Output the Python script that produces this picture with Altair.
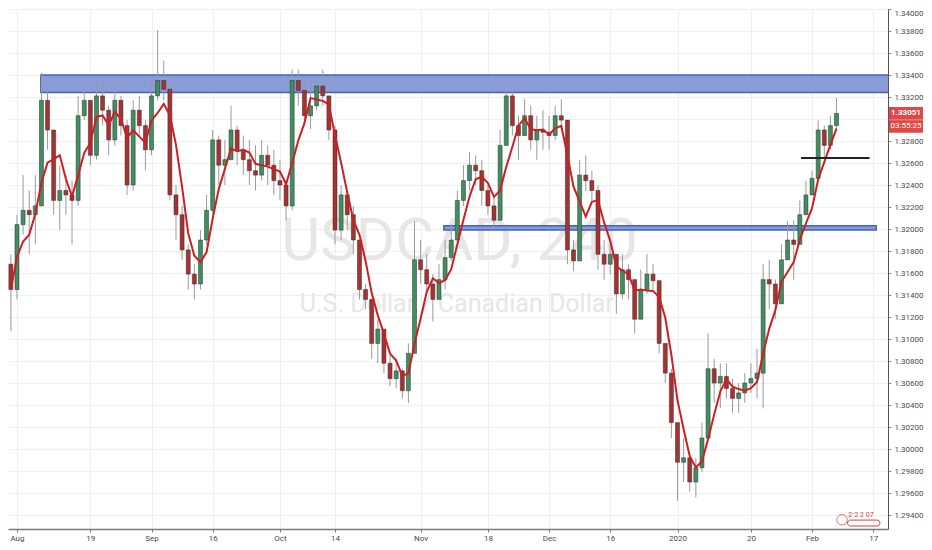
"""
USDCAD 4H-style candlestick chart with moving average and zones, Altair
"""
import json
import altair as alt
import pandas as pd

# ---------------------------------------------------------------------------
# Data (one candle per trading day)
# ---------------------------------------------------------------------------
first_open = 1.3168

closes = [
    1.3145, 1.3204, 1.3217, 1.3213, 1.3221, 1.3317, 1.3290, 1.3226, 1.3235, 1.3231,
    1.3226, 1.3303, 1.3317, 1.3267, 1.3321, 1.3308, 1.3281, 1.3317, 1.3294, 1.3240,
    1.3308, 1.3294, 1.3272, 1.3321, 1.3335, 1.3327, 1.3231, 1.3213, 1.3181, 1.3159,
    1.3150, 1.3190, 1.3217, 1.3281, 1.3258, 1.3263, 1.3290, 1.3272, 1.3263, 1.3253,
    1.3249, 1.3267, 1.3258, 1.3244, 1.3240, 1.3221, 1.3335, 1.3326, 1.3303, 1.3312,
    1.3330, 1.3321, 1.3290, 1.3199, 1.3231, 1.3213, 1.3190, 1.3145, 1.3136, 1.3096,
    1.3109, 1.3078, 1.3064, 1.3071, 1.3053, 1.3087, 1.3172, 1.3163, 1.3150, 1.3136,
    1.3154, 1.3174, 1.3190, 1.3226, 1.3244, 1.3258, 1.3253, 1.3235, 1.3221, 1.3208,
    1.3276, 1.3321, 1.3294, 1.3285, 1.3303, 1.3281, 1.3290, 1.3288, 1.3285, 1.3303,
    1.3299, 1.3181, 1.3171, 1.3249, 1.3244, 1.3235, 1.3177, 1.3168, 1.3177, 1.3141,
    1.3163, 1.3154, 1.3118, 1.3145, 1.3159, 1.3153, 1.3096, 1.3069, 1.3024, 1.2988,
    1.2992, 1.2970, 1.2983, 1.3010, 1.3073, 1.3060, 1.3066, 1.3055, 1.3046, 1.3051,
    1.3060, 1.3064, 1.3069, 1.3154, 1.3150, 1.3132, 1.3172, 1.3190, 1.3186, 1.3213,
    1.3231, 1.3246, 1.3290, 1.3276, 1.3294, 1.3305,
]
highs = [
    1.3177, 1.3213, 1.3249, 1.3235, 1.3249, 1.3342, 1.3330, 1.3276, 1.3258, 1.3249,
    1.3244, 1.3321, 1.3330, 1.3317, 1.3335, 1.3327, 1.3312, 1.3326, 1.3321, 1.3299,
    1.3317, 1.3321, 1.3299, 1.3335, 1.3381, 1.3353, 1.3330, 1.3240, 1.3221, 1.3186,
    1.3168, 1.3199, 1.3231, 1.3290, 1.3285, 1.3281, 1.3312, 1.3294, 1.3285, 1.3281,
    1.3276, 1.3281, 1.3276, 1.3272, 1.3263, 1.3244, 1.3345, 1.3345, 1.3335, 1.3326,
    1.3339, 1.3345, 1.3321, 1.3294, 1.3240, 1.3235, 1.3221, 1.3190, 1.3150, 1.3136,
    1.3118, 1.3105, 1.3087, 1.3082, 1.3073, 1.3096, 1.3207, 1.3190, 1.3177, 1.3159,
    1.3168, 1.3190, 1.3204, 1.3235, 1.3258, 1.3270, 1.3267, 1.3263, 1.3240, 1.3231,
    1.3290, 1.3327, 1.3326, 1.3303, 1.3318, 1.3312, 1.3303, 1.3308, 1.3303, 1.3312,
    1.3318, 1.3294, 1.3190, 1.3263, 1.3267, 1.3253, 1.3240, 1.3190, 1.3190, 1.3177,
    1.3177, 1.3168, 1.3154, 1.3163, 1.3177, 1.3168, 1.3154, 1.3096, 1.3073, 1.3019,
    1.3010, 1.2997, 1.2992, 1.3024, 1.3105, 1.3082, 1.3078, 1.3078, 1.3064, 1.3060,
    1.3069, 1.3078, 1.3091, 1.3168, 1.3172, 1.3154, 1.3186, 1.3207, 1.3208, 1.3226,
    1.3244, 1.3253, 1.3299, 1.3294, 1.3303, 1.3319,
]
lows = [
    1.3107, 1.3136, 1.3195, 1.3177, 1.3186, 1.3221, 1.3272, 1.3213, 1.3199, 1.3213,
    1.3186, 1.3221, 1.3299, 1.3258, 1.3263, 1.3294, 1.3267, 1.3276, 1.3285, 1.3231,
    1.3235, 1.3285, 1.3253, 1.3267, 1.3317, 1.3317, 1.3226, 1.3190, 1.3172, 1.3145,
    1.3136, 1.3145, 1.3186, 1.3213, 1.3240, 1.3240, 1.3263, 1.3258, 1.3249, 1.3240,
    1.3235, 1.3244, 1.3240, 1.3231, 1.3226, 1.3208, 1.3217, 1.3312, 1.3294, 1.3291,
    1.3308, 1.3312, 1.3281, 1.3186, 1.3190, 1.3199, 1.3177, 1.3136, 1.3127, 1.3082,
    1.3078, 1.3069, 1.3057, 1.3055, 1.3046, 1.3042, 1.3087, 1.3150, 1.3141, 1.3116,
    1.3136, 1.3145, 1.3171, 1.3186, 1.3221, 1.3235, 1.3240, 1.3221, 1.3213, 1.3201,
    1.3207, 1.3276, 1.3285, 1.3263, 1.3290, 1.3272, 1.3263, 1.3272, 1.3272, 1.3281,
    1.3290, 1.3168, 1.3162, 1.3172, 1.3234, 1.3226, 1.3163, 1.3154, 1.3159, 1.3123,
    1.3136, 1.3136, 1.3105, 1.3127, 1.3141, 1.3145, 1.3087, 1.3060, 1.3010, 1.2953,
    1.2970, 1.2961, 1.2956, 1.2979, 1.3010, 1.3042, 1.3037, 1.3046, 1.3033, 1.3033,
    1.3042, 1.3051, 1.3046, 1.3037, 1.3127, 1.3118, 1.3136, 1.3177, 1.3154, 1.3195,
    1.3217, 1.3231, 1.3244, 1.3265, 1.3272, 1.3290,
]
# trading-day number, Aug 1 2019 = 0 (Jul 31 = -1)
day_index = list(range(-1, -1 + len(closes)))

tick_days = [0, 12, 22, 32, 43, 52, 66, 77, 87, 97, 108, 120, 130, 140]
tick_labels = ["Aug", "19", "Sep", "16", "Oct", "14", "Nov", "18", "Dec", "16",
               "2020", "20", "Feb", "17"]
price_ticks = [round(1.294 + 0.002 * k, 3) for k in range(24)]
hidden_price_label = 1.330   # sits under the last-price tag

# drawn zones and level
zone_start = [3.9, 69.8]
zone_end = [143.0, 140.5]
zone_top = [1.3340, 1.3203]
zone_bottom = [1.3324, 1.3199]
level_start = [128.2]
level_end = [139.4]
level_price = [1.32645]

last_price = 1.33051
countdown = "03:55:25"
watermark_title = "USDCAD, 240"
watermark_sub = "U.S. Dollar / Canadian Dollar"

# red stamp, bottom right
stamp_text = "2ˊ2 2 07"
stamp_ring_day, stamp_ring_price = [134.9], [1.29357]
stamp_text_day, stamp_text_price = [135.9], [1.29399]
stamp_box_days, stamp_box_prices = [135.8, 141.1], [1.29354, 1.29300]

# ---------------------------------------------------------------------------
df = pd.DataFrame({"idx": day_index, "close": closes, "high": highs, "low": lows})
df["open"] = [first_open] + closes[:-1]
df["high"] = df[["high", "open", "close"]].max(axis=1)
df["low"] = df[["low", "open", "close"]].min(axis=1)

TOTAL_W, TOTAL_H = 916, 534
FONT = "Roboto"
STAMP = "#e03c3c"

label_expr = "{}[indexof({}, datum.value)]".format(json.dumps(tick_labels), json.dumps(tick_days))
y_label_expr = "abs(datum.value - {}) < 0.0001 ? '' : format(datum.value, '.5f')".format(hidden_price_label)

x_axis = alt.Axis(values=tick_days, labelExpr=label_expr, grid=True, gridColor="#efefef",
                  domainColor="#7a7a7a", domainWidth=1.5, tickColor="#7a7a7a", tickSize=3,
                  labelFontSize=8, labelColor="#4a4a4a", labelFont=FONT, labelPadding=2,
                  title=None, labelFlush=False)
y_axis = alt.Axis(orient="right", values=price_ticks, labelExpr=y_label_expr, grid=True,
                  gridColor="#efefef", domainColor="#555555", tickColor="#8c8c8c",
                  tickSize=3, labelFontSize=8, labelColor="#4a4a4a", labelFont=FONT,
                  labelPadding=3, labelFlush=True, title=None)
x_scale = alt.Scale(domain=[-0.65, 141.6], nice=False, zero=False)
y_scale = alt.Scale(domain=[1.29273, 1.3400], nice=False, zero=False)


def X(field):
    return alt.X(field, type="quantitative", scale=x_scale, axis=x_axis)


def Y(field):
    return alt.Y(field, type="quantitative", scale=y_scale, axis=y_axis)


def right_of_plot(offset):
    return alt.value({"expr": f"width + {offset}"})


base = alt.Chart(df)

watermark = alt.Chart(pd.DataFrame({"t": [watermark_title]})).mark_text(
    font=FONT, fontSize=60, color="#e6e6e6", align="center", baseline="alphabetic"
).encode(text="t:N", x=alt.value({"expr": "width * 0.513"}), y=alt.value({"expr": "height * 0.483"}))

watermark2 = alt.Chart(pd.DataFrame({"t": [watermark_sub]})).mark_text(
    font=FONT, fontSize=25, color="#e6e6e6", align="center", baseline="alphabetic"
).encode(text="t:N", x=alt.value({"expr": "width * 0.51"}), y=alt.value({"expr": "height * 0.582"}))

zones = alt.Chart(pd.DataFrame({"x0": zone_start, "x1": zone_end,
                                "top": zone_top, "bot": zone_bottom})).mark_rect(
    fill="#7d91d0", fillOpacity=0.9, stroke="#4262c2", strokeWidth=1.5, clip=True
).encode(x=X("x0"), x2="x1", y=Y("top"), y2="bot")

wicks = base.mark_rule(color="#9a9a9a", strokeWidth=1, clip=True).encode(
    x=X("idx"), y=Y("low"), y2="high")

bodies = base.mark_bar(size=4, stroke="#2b2b2b", strokeWidth=0.5, clip=True).encode(
    x=X("idx"), y=Y("open"), y2="close",
    color=alt.condition("datum.close >= datum.open", alt.value("#3f8f60"), alt.value("#a83232")),
)

ma = base.transform_window(
    ma="mean(close)", frame=[-3, 0], sort=[alt.SortField("idx")]
).mark_line(color="#cc1f24", strokeWidth=2, clip=True).encode(x=X("idx"), y=Y("ma"))

level = alt.Chart(pd.DataFrame({"x0": level_start, "x1": level_end, "p": level_price})).mark_rule(
    color="#222222", strokeWidth=2, clip=True
).encode(x=X("x0"), x2="x1", y=Y("p"))

stamp_ring = alt.Chart(pd.DataFrame({"d": stamp_ring_day, "p": stamp_ring_price})).mark_point(
    shape="circle", size=110, color=STAMP, strokeWidth=1, filled=False
).encode(x=X("d"), y=Y("p"))
stamp_label = alt.Chart(pd.DataFrame({"d": stamp_text_day, "p": stamp_text_price,
                                      "t": [stamp_text]})).mark_text(
    font=FONT, fontSize=7, color=STAMP, align="left", baseline="middle"
).encode(text="t:N", x=X("d"), y=Y("p"))
stamp_box = alt.Chart(pd.DataFrame({"d0": [stamp_box_days[0]], "d1": [stamp_box_days[1]],
                                    "p0": [stamp_box_prices[0]], "p1": [stamp_box_prices[1]]})).mark_rect(
    filled=False, stroke=STAMP, strokeWidth=1, cornerRadius=3
).encode(x=X("d0"), x2="d1", y=Y("p0"), y2="p1")

# last price tag on the price scale (drawn just right of the plot)
tag_df = pd.DataFrame({"p": [last_price], "t1": [f"{last_price:.5f}"], "t2": [countdown]})
tag_box = alt.Chart(tag_df).transform_calculate(
    top="datum.p + 0.00058", bot="datum.p - 0.00176"
).mark_rect(color="#e04848").encode(
    x=right_of_plot(1), x2=right_of_plot(35), y=Y("top:Q"), y2="bot:Q")
tag_line = alt.Chart(tag_df).transform_calculate(mid="datum.p - 0.00059").mark_rule(
    color="#f3a0a0", strokeWidth=0.8
).encode(x=right_of_plot(1), x2=right_of_plot(35), y=Y("mid:Q"))
tag_text1 = alt.Chart(tag_df).mark_text(
    font=FONT, fontSize=8, color="white", align="center", baseline="middle", fontWeight="bold"
).encode(text="t1:N", x=right_of_plot(18), y=Y("p:Q"))
tag_text2 = alt.Chart(tag_df).transform_calculate(q="datum.p - 0.00118").mark_text(
    font=FONT, fontSize=8, color="white", align="center", baseline="middle"
).encode(text="t2:N", x=right_of_plot(18), y=Y("q:Q"))

chart = alt.layer(
    watermark, watermark2, zones, wicks, bodies, ma, level,
    stamp_ring, stamp_label, stamp_box,
    tag_box, tag_line, tag_text1, tag_text2,
).properties(
    width=TOTAL_W, height=TOTAL_H, background="white",
    padding={"left": 0, "top": 0, "right": 0, "bottom": 0},
    autosize=alt.AutoSizeParams(type="fit", contains="padding"),
).configure_view(stroke=None)

chart.save("out.html", embed_options={"renderer": "svg", "actions": False})
